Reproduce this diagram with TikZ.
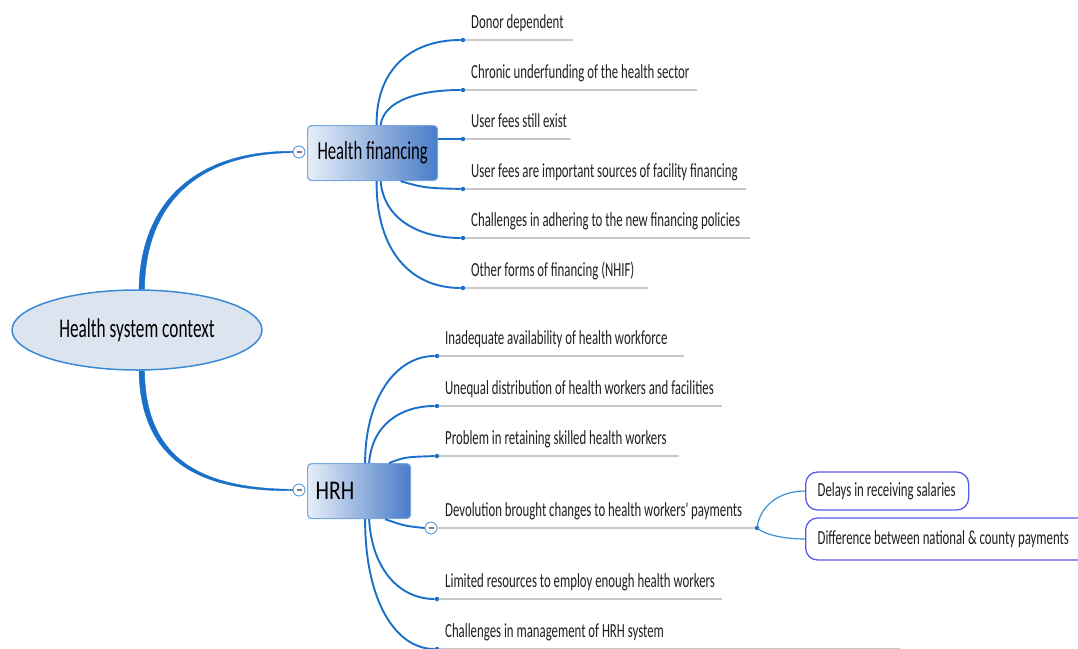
\documentclass[tikz,border=0pt]{standalone}
\usepackage{fontspec}
\usetikzlibrary{shapes.geometric}
\setmainfont{Carlito}
\newfontfamily\mapfont[FakeStretch=0.64]{Carlito}
\newfontfamily\capfont[FakeStretch=0.8]{Carlito}
\definecolor{linkblue}{RGB}{26,112,200}
\definecolor{sublink}{RGB}{58,143,208}
\definecolor{boxlight}{RGB}{230,238,248}
\definecolor{boxdark}{RGB}{74,124,200}
\definecolor{boxedge}{RGB}{122,168,220}
\definecolor{rootfill}{RGB}{220,228,239}
\definecolor{rootedge}{RGB}{58,138,214}
\definecolor{subedge}{RGB}{90,90,239}
\definecolor{rule}{RGB}{200,200,200}
\begin{document}
\begin{tikzpicture}[x=1pt,y=-1pt,
  branch/.style={fill=linkblue, draw=linkblue, line width=0.4pt},
  twig/.style={draw=linkblue, line width=1.9pt},
  thin link/.style={draw=sublink, line width=1.2pt},
  leaf/.style={anchor=base west, inner sep=0pt, text=black!88,
    font=\mapfont\fontsize{20}{20}\selectfont},
  uline/.style={draw=rule, line width=1.3pt},
  dot/.style={circle, fill=linkblue, inner sep=0pt, minimum size=4.5pt},
  toggle/.style={circle, draw=linkblue!80, fill=white, line width=0.8pt,
    minimum size=12pt, inner sep=0pt,
    path picture={\draw[gray, line width=1.2pt]
      ([xshift=-2.5pt]path picture bounding box.center) --
      ([xshift=2.5pt]path picture bounding box.center);}},
  topic/.style={anchor=north west, rounded corners=4pt, draw=boxedge,
    line width=1.2pt, left color=boxlight, right color=boxdark,
    inner xsep=8pt, text=black},
  subtopic/.style={anchor=west, rounded corners=12pt, draw=subedge,
    line width=1.3pt, fill=white, inner xsep=12pt, text=black!88,
    font=\mapfont\fontsize{20}{20}\selectfont},
]
\useasboundingbox (0,0) rectangle (1078,648);
\clip (0,0) rectangle (1078,648);

% central topic
\node[ellipse, draw=rootedge, fill=rootfill, line width=1.5pt,
      minimum width=250pt, minimum height=80pt, inner sep=0pt,
      font=\mapfont\fontsize{27}{27}\selectfont] (root) at (137,330)
      {Health system context};

% main topics
\node[topic, minimum width=130pt, minimum height=55pt,
      font=\mapfont\fontsize{26}{26}\selectfont] (hf) at (307,125)
      {Health financing};
\node[topic, minimum width=103pt, minimum height=55pt,
      font=\capfont\fontsize{27}{27}\selectfont] (hrh) at (307,463)
      {\makebox[87pt][l]{HRH}};

\node[toggle] (hft) at (299,152) {};
\node[toggle] (hrht) at (299,490) {};

% tapered main branches (thick at the centre, thin at the topics)
\path[branch] ([xshift=2pt]root.north) .. controls (140.5,199) and (199.5,150.5) ..
  ([yshift=0.7pt]hft.west) -- ([yshift=-0.7pt]hft.west)
  .. controls (200.5,153.5) and (145.5,201) .. ([xshift=7.5pt]root.north) -- cycle;
\path[branch] ([xshift=2pt]root.south) .. controls (140.5,461) and (199.5,491.5) ..
  ([yshift=-0.7pt]hrht.west) -- ([yshift=0.7pt]hrht.west)
  .. controls (200.5,488.5) and (145.5,459) .. ([xshift=7.5pt]root.south) -- cycle;

% health financing subtopics
\foreach \n/\y/\e/\t in {
  1/40/573/Donor dependent,
  2/90/697/Chronic underfunding of the health sector,
  3/139/571/User fees still exist,
  4/189/746/User fees are important sources of facility financing,
  5/238/750/Challenges in adhering to the new financing policies,
  6/288/648/Other forms of financing (NHIF)}{
  \node[dot] (fd\n) at (463,\y) {};
  \node[leaf] (f\n) at (471,\y-12) {\t};
  \draw[uline] (fd\n.east) -- (\e,\y);
}
\draw[twig] ([xshift=4pt]hf.north) .. controls (376,70) and (410,40) .. (fd1);
\draw[twig] ([xshift=8pt]hf.north) .. controls (384,100) and (420,90) .. (fd2);
\draw[twig] (hf.east |- fd3) -- (fd3);
\draw[twig] ([xshift=28pt]hf.south) .. controls (425,188) .. (fd4);
\draw[twig] ([xshift=8pt]hf.south) .. controls (384,220) and (420,238) .. (fd5);
\draw[twig] ([xshift=4pt]hf.south) .. controls (376,250) and (410,288) .. (fd6);

% HRH subtopics
\foreach \n/\y/\e/\t in {
  1/356/684/Inadequate availability of health workforce,
  2/406/722/Unequal distribution of health workers and facilities,
  3/456/679/Problem in retaining skilled health workers,
  5/599/722/Limited resources to employ enough health workers,
  6/649/900/Challenges in management of HRH system}{
  \node[dot] (hd\n) at (437,\y) {};
  \node[leaf] (h\n) at (445,\y-12) {\t};
  \draw[uline] (hd\n.east) -- (\e,\y);
}
\node[toggle] (dvt) at (431,528) {};
\node[leaf] (h4) at (445,516) {Devolution brought changes to health workers' payments};
\node[dot] (dvd) at (757,528) {};
\draw[uline] (dvt.east) -- (dvd.west);

\draw[twig] ([xshift=6pt]hrh.north) .. controls (365,400) and (395,356) .. (hd1);
\draw[twig] ([xshift=10pt]hrh.north) .. controls (372,425) and (400,406) .. (hd2);
\draw[twig] ([xshift=30pt]hrh.north) .. controls (405,457) .. (hd3);
\draw[twig] ([xshift=26pt]hrh.south) .. controls (405,526) .. (dvt.west);
\draw[twig] ([xshift=10pt]hrh.south) .. controls (372,570) and (400,599) .. (hd5);
\draw[twig] ([xshift=6pt]hrh.south) .. controls (365,600) and (395,649) .. (hd6);

% devolution details
\node[subtopic, minimum height=38pt] (s1) at (805,491)
  {\makebox[139pt][l]{Delays in receiving salaries}};
\node[subtopic, minimum height=42pt] (s2) at (805,539)
  {\makebox[266pt][l]{Difference between national \& county payments}};
\draw[thin link] (dvd.center) .. controls (760,505) and (780,491) .. (s1.west);
\draw[thin link] (dvd.center) .. controls (765,535) and (785,539) .. (s2.west);
\end{tikzpicture}
\end{document}
